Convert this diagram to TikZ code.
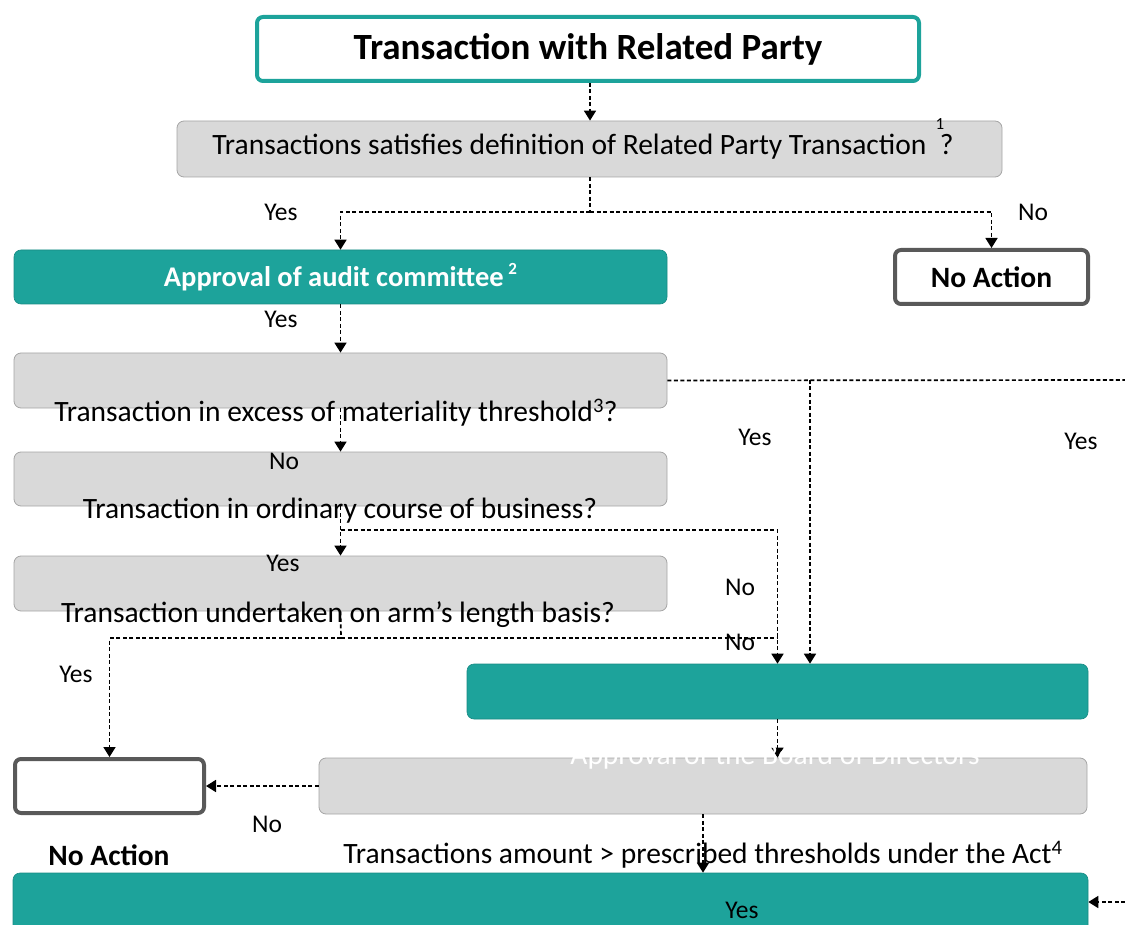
\documentclass[tikz,border=0pt]{standalone}
\usepackage{fontspec}
\setmainfont{Carlito}
\usepackage{xcolor}
\usetikzlibrary{arrows.meta}

\definecolor{rpteal}{RGB}{29,163,155}
\definecolor{rpgrey}{RGB}{217,217,217}
\definecolor{rpedge}{RGB}{165,165,165}
\definecolor{rpdark}{RGB}{89,89,89}

\tikzset{
  titlebox/.style={draw=rpteal, line width=4pt, fill=white, rounded corners=6pt},
  greybox/.style={draw=rpedge, line width=0.8pt, fill=rpgrey, rounded corners=7pt},
  tealbox/.style={draw=rpteal!85!black, line width=0.6pt, fill=rpteal, rounded corners=7pt},
  nabox/.style={draw=rpdark, line width=4pt, fill=white, rounded corners=6pt},
  line/.style={dashed, dash pattern=on 4pt off 2.5pt, line width=1.7pt},
  flow/.style={line, -{Triangle[width=12pt,length=10pt]}},
  lbl/.style={inner sep=0pt, font=\fontsize{25.5}{30}\selectfont},
  txt/.style={inner sep=0pt, font=\fontsize{29.5}{34}\selectfont},
}

\begin{document}
\begin{tikzpicture}[x=1pt, y=-1pt]
\useasboundingbox (0,0) rectangle (1125,925);
\clip (0,0) rectangle (1125,925);
% boxes
\node[titlebox, minimum width=662pt, minimum height=64pt] (title) at (588,49)
  {\fontsize{37}{42}\selectfont\bfseries Transaction with Related Party};
\node[greybox, minimum width=825pt, minimum height=56pt] (q1) at (589.5,149) {};
\node[txt] (q1text) at (583,147) {Transactions satisfies definition of Related Party Transaction \ ?};
\node[lbl, font=\fontsize{17}{19}\selectfont] (q1note) at (940,124) {1};
\node[tealbox, minimum width=653pt, minimum height=54pt] (audit) at (340.5,277)
  {\color{white}\fontsize{28.5}{32}\selectfont\bfseries Approval of audit committee\,\raisebox{0.9ex}{\fontsize{17}{19}\selectfont 2}};
\node[nabox, minimum width=193pt, minimum height=54pt] (na1) at (991.5,277)
  {\fontsize{29.5}{34}\selectfont\bfseries No Action};
\node[greybox, minimum width=653pt, minimum height=55pt] (q2) at (340.5,380.5) {};
\node[greybox, minimum width=653pt, minimum height=54pt] (q3) at (340.5,479) {};
\node[greybox, minimum width=653pt, minimum height=55pt] (q4) at (340.5,583.5) {};
\node[tealbox, minimum width=621pt, minimum height=55pt] (board) at (777.5,691.5) {};
\node[greybox, minimum width=768pt, minimum height=56pt] (q5) at (703,786) {};
\node[nabox, minimum width=189pt, minimum height=54pt] (na2) at (109.5,786) {};
\node[tealbox, minimum width=1075pt, minimum height=80pt] (final) at (550.5,913) {};

% junctions
\coordinate (j1) at (590,212);
\coordinate (j2) at (810,380);
\coordinate (j3) at (341,530);
\coordinate (j4) at (341,638);
\coordinate (e1) at (1125,380);
\coordinate (e2) at (1125,902);

% connectors
\draw[flow] (title.south -| j1) -- (q1.north -| j1);
\draw[line] (q1.south -| j1) -- (j1);
\draw[flow] (j1) -| (audit.north);
\draw[flow] (j1) -| (na1.north);
\draw[flow] (audit.south) -- (q2.north);
\draw[line] (q2.east) -- (e1);
\draw[flow] (j2) -- (j2 |- board.north);
\draw[flow] (q2.south) -- (q3.north);
\draw[flow] (q3.south) -- (q4.north);
\draw[flow] (j3) -| (board.north);
\draw[line] (q4.south) -- (j4);
\draw[flow] (j4) -| (na2.north);
\draw[line] (j4) -- (j4 -| board.north);
\draw[flow] (board.south) -- (board.south |- q5.north);
\draw[flow] (q5.west) -- (na2.east);
\draw[flow] (q5.south) -- (q5.south |- final.north);
\draw[flow] (e2) -- (e2 -| final.east);

% texts
\node[txt] (t2) at (336,413) {Transaction in excess of materiality threshold\textsuperscript{3}?};
\node[txt] (t3) at (340,511) {Transaction in ordinary course of business?};
\node[txt] (t4) at (338,615) {Transaction undertaken on arm’s length basis?};
\node[txt, text=white] (t6) at (775,757) {Approval of the Board of Directors};
\node[txt] (t5) at (703,855) {Transactions amount > prescribed thresholds under the Act\textsuperscript{4}};
\node[txt, font=\fontsize{29.5}{34}\selectfont\bfseries] (t7) at (109,855) {No Action};

% labels
\node[lbl] (y1) at (281,212) {Yes};
\node[lbl] (n1) at (1033,212) {No};
\node[lbl] (y2) at (281,319) {Yes};
\node[lbl] (y3) at (755,437) {Yes};
\node[lbl] (y4) at (1081,441) {Yes};
\node[lbl] (n2) at (284,461) {No};
\node[lbl] (y5) at (283,563) {Yes};
\node[lbl] (n3) at (740,587) {No};
\node[lbl] (n4) at (740,642) {No};
\node[lbl] (y6) at (76,674) {Yes};
\node[lbl] (n5) at (267,824) {No};
\node[lbl] (y7) at (742,910) {Yes};
\end{tikzpicture}
\end{document}
